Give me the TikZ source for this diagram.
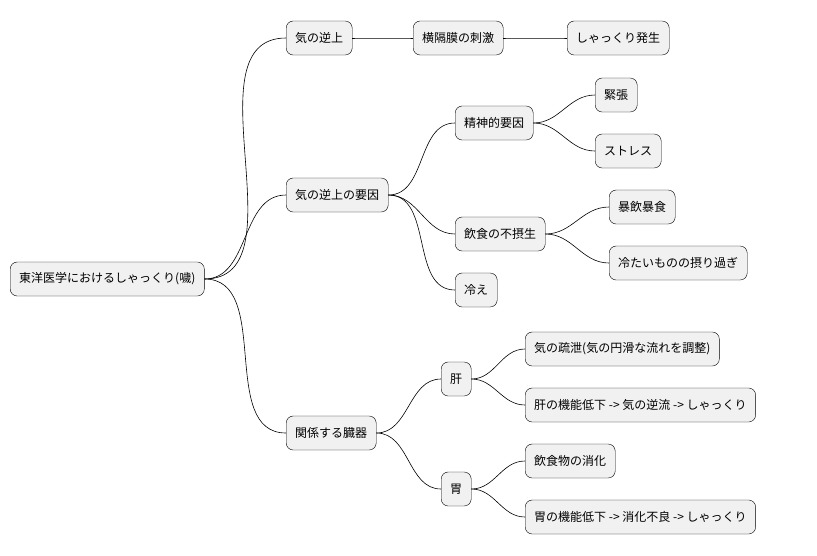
\documentclass[tikz,border=0pt]{standalone}
\usepackage{fontspec}
\setmainfont{Noto Sans CJK JP}
\definecolor{NodeFill}{HTML}{F1F1F1}
\tikzset{
  topic/.style={draw=black,fill=NodeFill,rounded corners=7pt,anchor=west,
    minimum height=34pt,inner xsep=9pt,font=\fontsize{12}{14}\selectfont},
  branch/.style={draw=black,line width=0.6pt}
}
\begin{document}
\begin{tikzpicture}[x=1pt,y=-1pt]
    \useasboundingbox (0,0) rectangle (817,555);
    % root
    \node[topic] (root) at (10,279) {東洋医学におけるしゃっくり(噦)};
    % first level
    \node[topic] (gyaku) at (286,38) {気の逆上};
    \node[topic] (youin) at (286,195) {気の逆上の要因};
    \node[topic] (zouki) at (286,433) {関係する臓器};
    % second level
    \node[topic] (oukaku) at (413,38) {横隔膜の刺激};
    \node[topic] (hassei) at (567,38) {しゃっくり発生};
    \node[topic] (seishin) at (455,123) {精神的要因};
    \node[topic] (kinchou) at (595,95) {緊張};
    \node[topic] (stress) at (595,151) {ストレス};
    \node[topic] (inshoku) at (455,234) {飲食の不摂生};
    \node[topic] (bouin) at (609,207) {暴飲暴食};
    \node[topic] (tsumetai) at (609,263) {冷たいものの摂り過ぎ};
    \node[topic] (hie) at (455,290) {冷え};
    \node[topic] (kan) at (441,379) {肝};
    \node[topic] (sosetsu) at (525,349) {気の疏泄(気の円滑な流れを調整)};
    \node[topic] (kanteika) at (525,405) {肝の機能低下 -> 気の逆流 -> しゃっくり};
    \node[topic] (i) at (441,489) {胃};
    \node[topic] (shouka) at (525,461) {飲食物の消化};
    \node[topic] (iteika) at (525,517) {胃の機能低下 -> 消化不良 -> しゃっくり};
    % connectors
    \foreach \a/\b in {root/gyaku,root/youin,root/zouki,gyaku/oukaku,oukaku/hassei,
      youin/seishin,youin/inshoku,youin/hie,seishin/kinchou,seishin/stress,
      inshoku/bouin,inshoku/tsumetai,zouki/kan,zouki/i,kan/sosetsu,kan/kanteika,
      i/shouka,i/iteika}
      \draw[branch] (\a.east) to[out=0,in=180] (\b.west);
\end{tikzpicture}
\end{document}
